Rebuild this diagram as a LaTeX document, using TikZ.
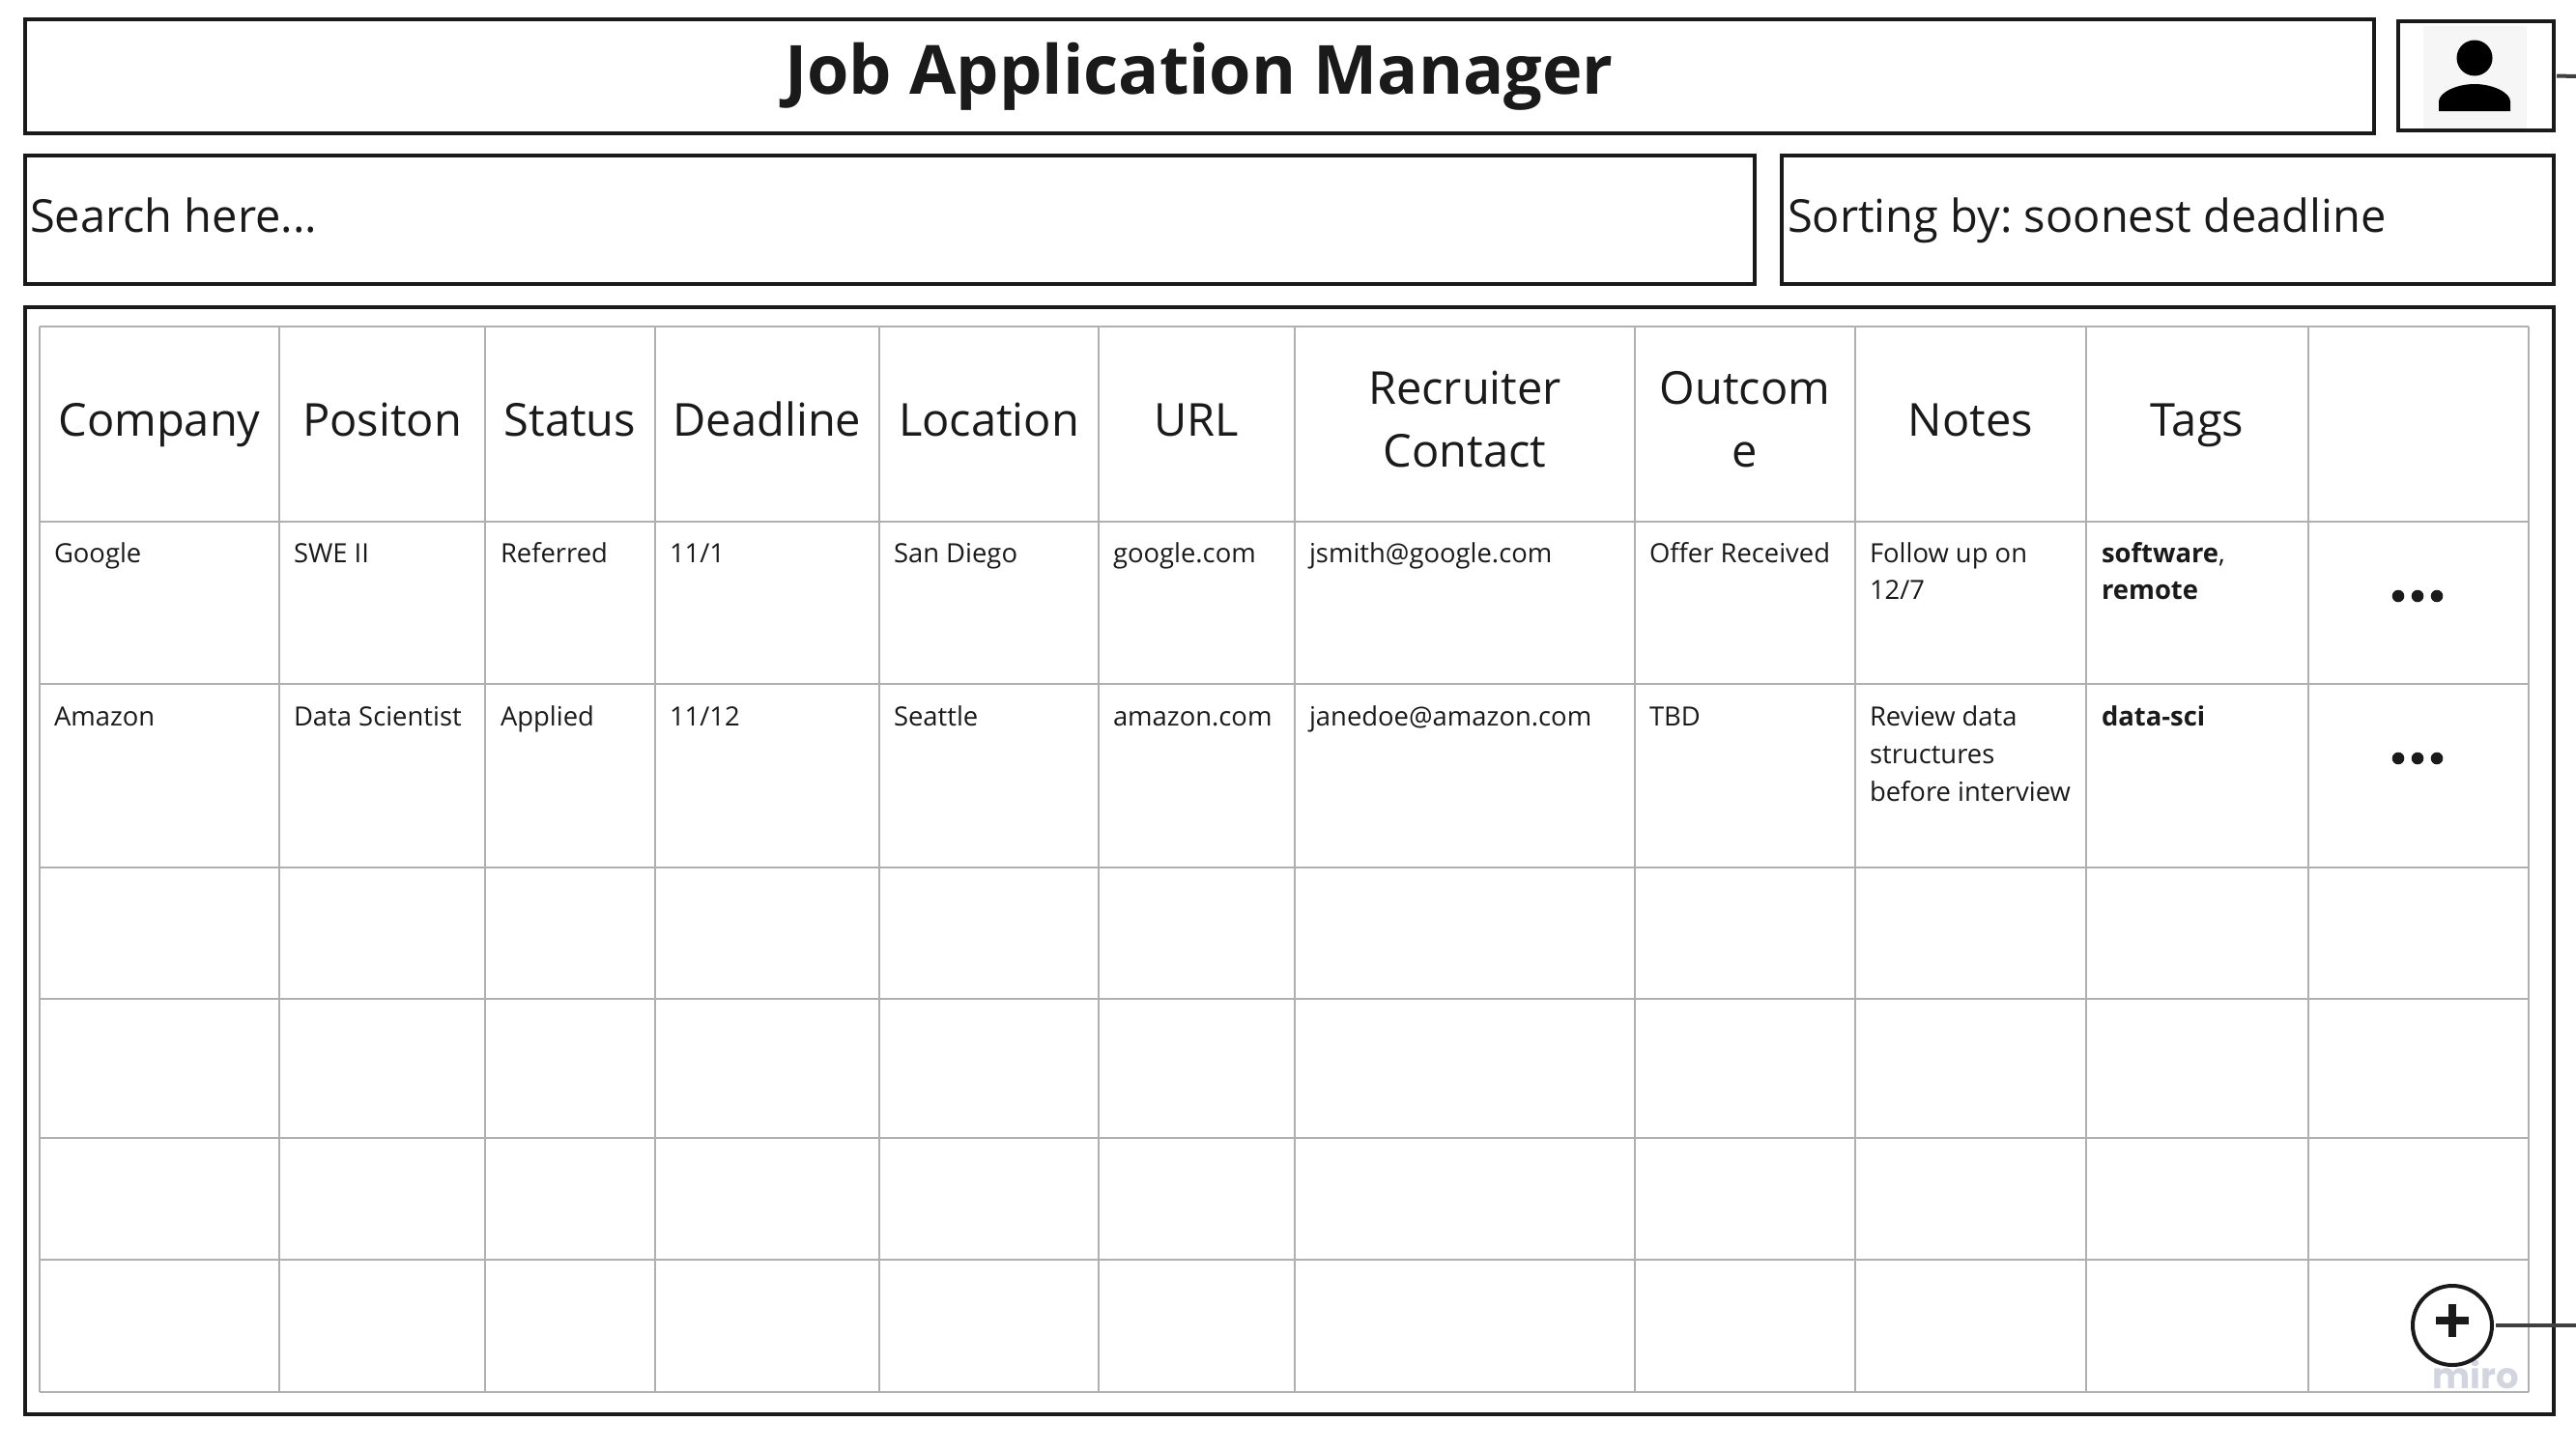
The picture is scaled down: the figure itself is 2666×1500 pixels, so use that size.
\documentclass[tikz,border=0pt]{standalone}
\usepackage{fontspec}
\setmainfont{Open Sans}
\newfontfamily\wmfont{Poppins}
\definecolor{ink}{HTML}{1A1A1A}
\definecolor{gridc}{HTML}{B0B0B0}
\definecolor{linkc}{HTML}{404040}
\definecolor{wm}{HTML}{D4D4E0}
\definecolor{avbg}{HTML}{F6F6F6}
\tikzset{
  box/.style={draw=ink,line width=4pt,fill=white,inner sep=0pt,outer sep=0pt,anchor=north west},
  gridl/.style={draw=gridc,line width=2.8pt},
  head/.style={inner sep=0pt,outer sep=0pt,text=ink,align=center,anchor=center,font=\fontsize{47}{65}\selectfont},
  headone/.style={inner sep=0pt,outer sep=0pt,text=ink,anchor=base,font=\fontsize{47}{65}\selectfont},
  cell/.style={inner sep=0pt,outer sep=0pt,text=ink,align=left,anchor=north west,font=\fontsize{27.4}{38.8}\selectfont},
  boxtext/.style={inner sep=0pt,outer sep=0pt,text=ink,anchor=base west,font=\fontsize{47}{60}\selectfont},
  dotmark/.style={circle,fill=ink,inner sep=0pt,minimum size=12.6pt},
  linkl/.style={draw=linkc,line width=4pt},
}
\newcommand{\fl}{\rule{0pt}{30pt}}
\begin{document}
\frenchspacing
\begin{tikzpicture}[x=1pt,y=-1pt]
\useasboundingbox (0,0) rectangle (2666,1500);
\fill[white] (0,0) rectangle (2666,1500);

% title
\node[box,minimum width=2431pt,minimum height=118pt] (titlebox) at (26,20) {};
\node[inner sep=0pt,text=ink,anchor=base,font=\fontsize{70.2}{90}\selectfont\bfseries] (title) at (1241,97) {Job Application Manager};

% avatar
\node[box,minimum width=161pt,minimum height=113pt] (avatar) at (2482,22) {};
\fill[avbg] (2508,27) rectangle (2615,133);
\fill[black] (2561,60) circle (18.5);
\fill[black] (2524,115) -- (2524,105) .. controls (2524,96) and (2542,87) .. (2561,87) .. controls (2580,87) and (2598,96) .. (2598,105) -- (2598,115) -- cycle;
\coordinate (avatarEnd) at (2666,79);
\draw[linkl] (avatar.east) ++(3,0) -- (avatarEnd);

% search / sort
\node[box,minimum width=1790pt,minimum height=133pt] (searchbox) at (26,161) {};
\node[boxtext] (searchtext) at (31,240) {Search here...};
\node[box,minimum width=799pt,minimum height=133pt] (sortbox) at (1844,161) {};
\node[boxtext] (sorttext) at (1850,240) {Sorting by: soonest deadline};

% outer panel
\node[box,minimum width=2617pt,minimum height=1146pt] (panel) at (26,318) {};

% grid
\foreach \x in {41,289,502,678,910,1137,1340,1692,1920,2159,2389,2617}
  \draw[gridl] (\x,338) -- (\x,1441);
\foreach \y in {338,540,708,898,1034,1178,1304,1441}
  \draw[gridl] (41,\y) -- (2617,\y);

% headers
\node[headone] (h1) at (165,451) {Company};
\node[headone] (h2) at (395.5,451) {Positon};
\node[headone] (h3) at (590,451) {Status};
\node[headone] (h4) at (794,451) {Deadline};
\node[headone] (h5) at (1023.5,451) {Location};
\node[headone] (h6) at (1238.5,451) {URL};
\node[head] (h7) at (1516,434) {Recruiter\\Contact};
\node[head] (h8) at (1806,434) {Outcom\\e};
\node[headone] (h9) at (2039.5,451) {Notes};
\node[headone] (h10) at (2274,451) {Tags};

% row 1
\node[cell] (a1) at (56,552) {\fl Google};
\node[cell] (a2) at (304,552) {\fl SWE II};
\node[cell] (a3) at (518,552) {\fl Referred};
\node[cell] (a4) at (693,552) {\fl 11/1};
\node[cell] (a5) at (925,552) {\fl San Diego};
\node[cell] (a6) at (1152,552) {\fl google.com};
\node[cell] (a7) at (1355,552) {\fl jsmith@google.com};
\node[cell] (a8) at (1707,552) {\fl Offer Received};
\node[cell] (a9) at (1935,552) {\fl Follow up on\\12/7};
\node[cell] (a10) at (2175,552) {\fl \textbf{software},\\\textbf{remote}};
\node[dotmark] (d1) at (2482,617) {};
\node[dotmark] (d2) at (2502,617) {};
\node[dotmark] (d3) at (2522,617) {};

% row 2
\node[cell] (b1) at (56,721.5) {\fl Amazon};
\node[cell] (b2) at (304,721.5) {\fl Data Scientist};
\node[cell] (b3) at (518,721.5) {\fl Applied};
\node[cell] (b4) at (693,721.5) {\fl 11/12};
\node[cell] (b5) at (925,721.5) {\fl Seattle};
\node[cell] (b6) at (1152,721.5) {\fl amazon.com};
\node[cell] (b7) at (1355,721.5) {\fl janedoe@amazon.com};
\node[cell] (b8) at (1707,721.5) {\fl TBD};
\node[cell] (b9) at (1935,721.5) {\fl Review data\\structures\\before interview};
\node[cell] (b10) at (2175,721.5) {\fl \textbf{data-sci}};
\node[dotmark] (e1) at (2482,785) {};
\node[dotmark] (e2) at (2502,785) {};
\node[dotmark] (e3) at (2522,785) {};

% watermark
\node[inner sep=0pt,text=wm,anchor=base,font=\fontsize{37}{40}\wmfont\bfseries] (miro) at (2562,1437) {miro};

% add button
\node[circle,draw=ink,line width=4pt,minimum size=82pt,inner sep=0pt,outer sep=0pt] (addbtn) at (2538,1372) {};
\fill[ink] (2521,1363) rectangle (2555,1371);
\fill[ink] (2534,1350) rectangle (2542,1384);
\coordinate (addEnd) at (2666,1372);
\draw[linkl] (addbtn.east) ++(4,0) -- (addEnd);
\end{tikzpicture}
\end{document}
